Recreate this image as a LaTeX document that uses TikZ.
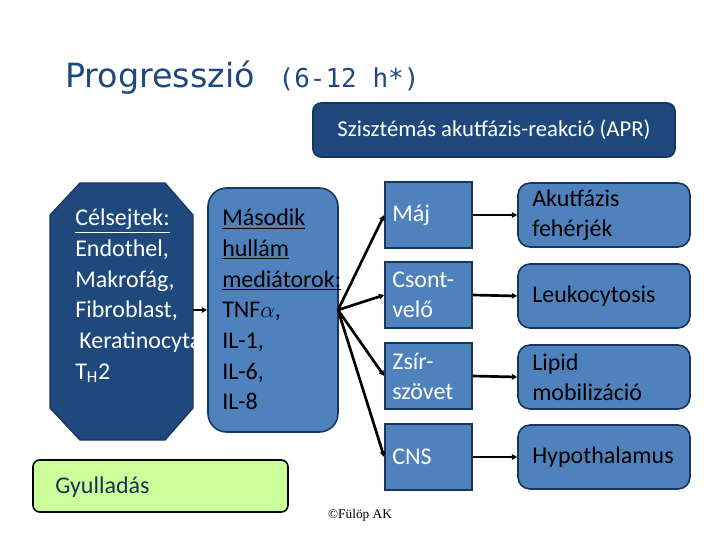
\documentclass[tikz,border=0pt]{standalone}
\usepackage{fontspec}
\setmainfont{Carlito}
\newfontfamily\titlefont{DejaVu Sans}
\newfontfamily\titlemono{DejaVu Sans Mono}
\usetikzlibrary{shapes.geometric,arrows.meta}
\definecolor{dkb}{HTML}{1F497D}
\definecolor{mdb}{HTML}{4F81BD}
\definecolor{brd}{HTML}{17375E}
\definecolor{lgr}{HTML}{CCFF99}
\begin{document}
\begin{tikzpicture}[x=0.75pt,y=-0.75pt,
  box/.style={draw=brd,line width=1.2pt,inner sep=0pt},
  arr/.style={-{Triangle[length=4pt,width=4pt]},line width=2pt},
  txt/.style={font=\fontsize{18}{20.5}\selectfont,align=left,anchor=north west,inner sep=0pt}]
\useasboundingbox (0,0) rectangle (720,540);
\node[anchor=base west,inner sep=0pt,text=dkb,font=\fontsize{25}{28}\selectfont\titlefont] at (65,87) {Progresszió\hspace{0.4em} {\titlemono\fontsize{19.5}{22}\selectfont (6-12 h*)}};
\node[box,fill=dkb,rounded corners=6pt,minimum width=362*0.75pt,minimum height=54*0.75pt,text=white,font=\fontsize{17}{18}\selectfont] (apr) at (494,130) {Szisztémás akutfázis-reakció (APR)};
% octagon
\path[fill=dkb,draw=brd,line width=1pt] (80,183) -- (165,183) -- (193,215) -- (193,408) -- (165,440) -- (80,440) -- (50,408) -- (50,215) -- cycle;
\coordinate (oct) at (193,310);
\node[txt,text=white] (cel) at (75,209) {\underline{Célsejtek:}\\[2.5pt]Endothel,\\[2.5pt]Makrofág,\\[2.5pt]Fibroblast,\\[2.5pt] \,Keratinocyta,\\[2.5pt]T\textsubscript{H}2};
\node[box,fill=mdb,rounded corners=14pt,minimum width=130*0.75pt,minimum height=244*0.75pt] (med) at (273,310) {};
\node[txt,text=black] at (222,209) {\underline{Második}\\[2.5pt]\underline{hullám}\\[2.5pt]\underline{mediátorok:}\\[2.5pt]TNF$\alpha$,\\[2.5pt]IL-1,\\[2.5pt]IL-6,\\[2.5pt]IL-8};
\draw[arr] (oct) -- (med.west);
\coordinate (mr) at (338,310);
\foreach \n/\y/\t in {a/215/Máj,b/295/{Csont-\\[2pt]velő},c/376/{Zsír-\\[2pt]szövet},d/457/CNS}{
  \node[box,fill=mdb,minimum width=87*0.75pt,minimum height=66*0.75pt] (o\n) at (428.5,\y) {};
  \node[txt,anchor=west,text=white] at (392,\y) {\t};
}
\foreach \n/\y/\t in {a/215/{Akutfázis\\[2pt]fehérjék},b/296/Leukocytosis,c/377/{Lipid\\[2pt]mobilizáció},d/457/Hypothalamus}{
  \node[box,fill=mdb,rounded corners=9pt,minimum width=172*0.75pt,minimum height=64*0.75pt] (r\n) at (604,\y) {};
  \node[txt,anchor=west,text=black] at (532,\y) {\t};
  \draw[arr] (o\n.east) -- (r\n.west);
  \draw[arr] (mr) -- (o\n.west);
}
\node[box,draw=black,fill=lgr,rounded corners=5pt,minimum width=255*0.75pt,minimum height=52*0.75pt] (gy) at (160.5,486) {};
\node[txt,anchor=west,text=dkb!70!black] at (55,487) {Gyulladás};
\node[font=\fontsize{10}{10}\selectfont,inner sep=0pt] (cp) at (360,515) {\setmainfont{Liberation Serif}©Fülöp AK};
\end{tikzpicture}
\end{document}
